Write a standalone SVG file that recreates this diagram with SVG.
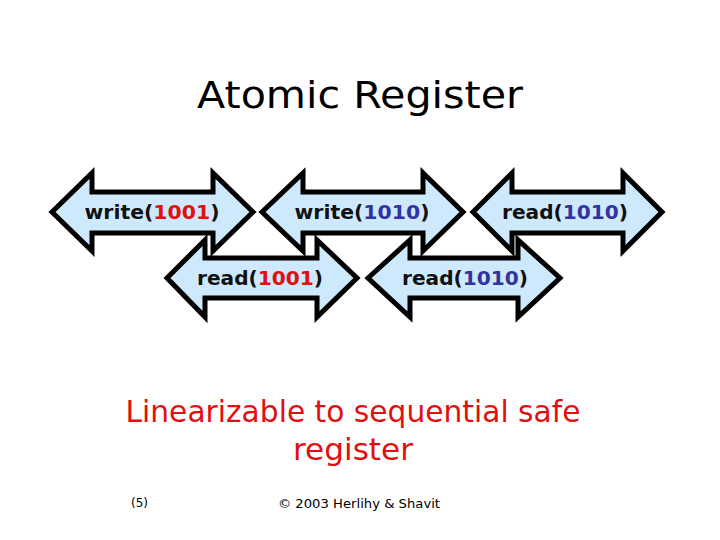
<svg xmlns="http://www.w3.org/2000/svg" width="720" height="540" viewBox="0 0 720 540">
<style>
.arrow{fill:#cde9fb;stroke:#000;stroke-width:5;stroke-linejoin:miter}
.lbl{font-family:"DejaVu Sans",sans-serif;font-size:20px;font-weight:bold;fill:#111;text-anchor:middle}
.r{fill:#e01010}
.b{fill:#3333a0}
</style>
<rect width="720" height="540" fill="#fff"/>
<text x="360" y="108" font-family="DejaVu Sans, sans-serif" font-size="38" text-anchor="middle" textLength="326" lengthAdjust="spacingAndGlyphs" fill="#000">Atomic Register</text>
<g id="connectors"></g>
<g id="write1001">
<path class="arrow" d="M52,212 L92,173 L92,192 L213,192 L213,173 L253,212 L213,251 L213,233 L92,233 L92,251 Z"/>
<text class="lbl" x="152" y="219" textLength="135" lengthAdjust="spacingAndGlyphs">write(<tspan class="r">1001</tspan>)</text>
</g>
<g id="write1010">
<path class="arrow" d="M262,212 L303,173 L303,192 L423,192 L423,173 L463,212 L423,251 L423,233 L303,233 L303,251 Z"/>
<text class="lbl" x="362" y="219" textLength="135" lengthAdjust="spacingAndGlyphs">write(<tspan class="b">1010</tspan>)</text>
</g>
<g id="read1010a">
<path class="arrow" d="M473,212 L512,173 L512,192 L623,192 L623,173 L662,212 L623,251 L623,233 L512,233 L512,251 Z"/>
<text class="lbl" x="565" y="219" textLength="126" lengthAdjust="spacingAndGlyphs">read(<tspan class="b">1010</tspan>)</text>
</g>
<g id="read1001">
<path class="arrow" d="M167,278 L205,240 L205,258 L317,258 L317,240 L357,278 L317,317 L317,298 L205,298 L205,317 Z"/>
<text class="lbl" x="260" y="285" textLength="126" lengthAdjust="spacingAndGlyphs">read(<tspan class="r">1001</tspan>)</text>
</g>
<g id="read1010b">
<path class="arrow" d="M368,278 L410,240 L410,258 L518,258 L518,240 L560,278 L518,317 L518,298 L410,298 L410,317 Z"/>
<text class="lbl" x="465" y="285" textLength="126" lengthAdjust="spacingAndGlyphs">read(<tspan class="b">1010</tspan>)</text>
</g>
<text x="353" y="422" font-family="DejaVu Sans, sans-serif" font-size="30" text-anchor="middle" fill="#e01010" textLength="455" lengthAdjust="spacingAndGlyphs">Linearizable to sequential safe</text>
<text x="353" y="460" font-family="DejaVu Sans, sans-serif" font-size="30" text-anchor="middle" fill="#e01010" textLength="120" lengthAdjust="spacingAndGlyphs">register</text>
<text x="131" y="507" font-family="DejaVu Sans, sans-serif" font-size="12" fill="#000">(5)</text>
<text x="359" y="508" font-family="DejaVu Sans, sans-serif" font-size="13" text-anchor="middle" fill="#000" textLength="162" lengthAdjust="spacingAndGlyphs">© 2003 Herlihy &amp; Shavit</text>
</svg>
